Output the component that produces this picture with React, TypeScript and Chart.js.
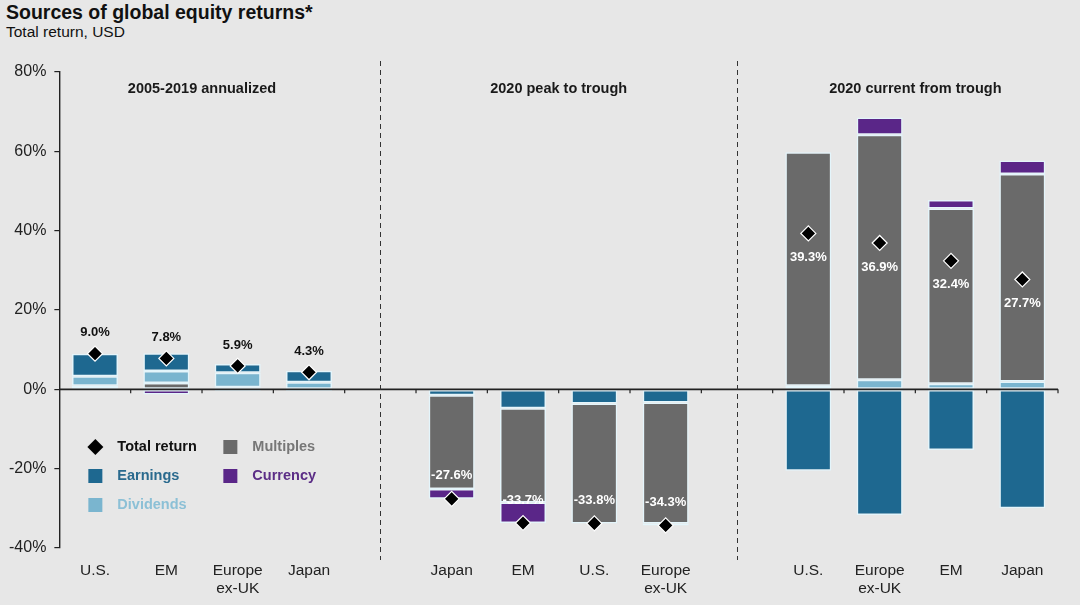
import React, { useEffect, useRef } from 'react';
import { Chart, registerables } from 'chart.js';

Chart.register(...registerables);

// ---------- data ----------
const categories: (string | string[])[] = [
  'U.S.', 'EM', ['Europe', 'ex-UK'], 'Japan', '',
  'Japan', 'EM', 'U.S.', ['Europe', 'ex-UK'], '',
  'U.S.', ['Europe', 'ex-UK'], 'EM', 'Japan',
];
const multiples = [0.9, 1.6, 0.5, -0.4, null, -23.6, -23.7, -30.2, -30.5, null, 58.9, 61.8, 44.2, 52.3];
const dividends = [2.4, 3.0, 3.7, 1.8, null, 0, 0, 0, 0, null, 0.9, 2.4, 1.4, 2.0];
const earnings = [5.7, 4.5, 2.2, 2.9, null, -1.5, -4.8, -3.6, -3.3, null, -20.5, -31.7, -15.3, -30.0];
const currency = [0, -1.3, -0.5, 0, null, -2.5, -5.2, 0, -0.5, null, 0, 4.3, 2.1, 3.4];
const totalReturn = [9.0, 7.8, 5.9, 4.3, null, -27.6, -33.7, -33.8, -34.3, null, 39.3, 36.9, 32.4, 27.7];
const yTicks = [-40, -20, 0, 20, 40, 60, 80];

const sections = [
  { title: '2005-2019 annualized', from: 0, to: 3 },
  { title: '2020 peak to trough', from: 5, to: 8 },
  { title: '2020 current from trough', from: 10, to: 13 },
];
const dividers = [4, 9];

// ---------- styles ----------
const FONT = "'Liberation Sans', Arial, sans-serif";
const BG = '#e7e7e7';
const C_EARN = '#1e6890';
const C_DIV = '#7ab5cf';
const C_MULT = '#6a6a6a';
const C_CUR = '#5a2688';
const BORDER = 'rgba(228,246,252,0.95)';

const sectionOf = (i: number) => sections.findIndex((s) => i >= s.from && i <= s.to);
const pick = (arr: (number | null)[], secs: number[]) =>
  arr.map((v, i) => (secs.includes(sectionOf(i)) && v !== 0 ? v : null));

const barDs = (label: string, data: (number | null)[], color: string) => ({
  type: 'bar' as const,
  label,
  data,
  backgroundColor: color,
  borderColor: BORDER,
  borderWidth: 1.5,
  borderSkipped: false,
  stack: 'bars',
  order: 2,
  categoryPercentage: 1,
  barPercentage: 0.645,
});

const overlayPlugin = {
  id: 'overlay',
  afterDatasetsDraw(chart: any) {
    const { ctx, chartArea, scales } = chart;
    const x = scales.x;
    const y = scales.y;
    const y0 = y.getPixelForValue(0);
    ctx.save();
    // zero line
    ctx.strokeStyle = '#222';
    ctx.lineWidth = 1.6;
    ctx.beginPath();
    ctx.moveTo(chartArea.left, y0);
    ctx.lineTo(chartArea.right, y0);
    ctx.stroke();
    // tick marks at category boundaries
    ctx.lineWidth = 1.2;
    for (let i = 1; i <= categories.length; i++) {
      const bx = i < categories.length
        ? (x.getPixelForValue(i - 1) + x.getPixelForValue(i)) / 2
        : chartArea.right;
      ctx.beginPath();
      ctx.moveTo(bx, y0);
      ctx.lineTo(bx, y0 + 4);
      ctx.stroke();
    }
    // dashed dividers
    ctx.setLineDash([5, 4]);
    ctx.lineWidth = 1;
    ctx.strokeStyle = '#333';
    dividers.forEach((d) => {
      const dx = Math.round(x.getPixelForValue(d)) + 0.5;
      ctx.beginPath();
      ctx.moveTo(dx, chartArea.top - 11);
      ctx.lineTo(dx, chartArea.bottom + 12);
      ctx.stroke();
    });
    ctx.setLineDash([]);
    // section headings
    ctx.fillStyle = '#1a1a1a';
    ctx.font = `bold 14.5px ${FONT}`;
    ctx.textAlign = 'center';
    ctx.textBaseline = 'middle';
    sections.forEach((s) => {
      const cx = (x.getPixelForValue(s.from) + x.getPixelForValue(s.to)) / 2;
      ctx.fillText(s.title, cx, chartArea.top + 17);
    });
    ctx.restore();
  },
  afterDraw(chart: any) {
    const { ctx, chartArea, scales } = chart;
    const x = scales.x;
    const y = scales.y;
    ctx.save();
    // value labels
    ctx.font = `bold 13px ${FONT}`;
    ctx.textAlign = 'center';
    ctx.textBaseline = 'middle';
    totalReturn.forEach((v, i) => {
      if (v === null) return;
      const sec = sectionOf(i);
      const px = x.getPixelForValue(i);
      const py = y.getPixelForValue(v);
      const txt = v.toFixed(1) + '%';
      if (sec === 0) {
        ctx.fillStyle = '#111';
        ctx.fillText(txt, px, py - 21);
      } else if (sec === 1) {
        ctx.fillStyle = '#fff';
        ctx.fillText(txt, px, py - 23);
      } else {
        ctx.fillStyle = '#fff';
        ctx.fillText(txt, px, py + 24);
      }
    });
    // legend
    const lx = chartArea.left + 36;
    const lx2 = chartArea.left + 171;
    const ry = [chartArea.top + 375, chartArea.top + 404, chartArea.top + 433];
    const items = [
      { kind: 'diamond', color: '#000', text: 'Total return', tc: '#111', x: lx, y: ry[0] },
      { kind: 'sq', color: C_MULT, text: 'Multiples', tc: '#777', x: lx2, y: ry[0] },
      { kind: 'sq', color: C_EARN, text: 'Earnings', tc: '#2a6a8e', x: lx, y: ry[1] },
      { kind: 'sq', color: C_CUR, text: 'Currency', tc: '#5b2d86', x: lx2, y: ry[1] },
      { kind: 'sq', color: C_DIV, text: 'Dividends', tc: '#8cc0d6', x: lx, y: ry[2] },
    ];
    ctx.font = `bold 14.5px ${FONT}`;
    ctx.textAlign = 'left';
    items.forEach((it) => {
      ctx.fillStyle = it.color;
      if (it.kind === 'diamond') {
        ctx.beginPath();
        ctx.moveTo(it.x - 8, it.y);
        ctx.lineTo(it.x, it.y - 8);
        ctx.lineTo(it.x + 8, it.y);
        ctx.lineTo(it.x, it.y + 8);
        ctx.closePath();
        ctx.fill();
      } else {
        ctx.fillRect(it.x - 7, it.y - 7, 14, 14);
      }
      ctx.fillStyle = it.tc;
      ctx.fillText(it.text, it.x + 22, it.y);
    });
    ctx.restore();
  },
};

export default function App() {
  const ref = useRef<HTMLCanvasElement | null>(null);

  useEffect(() => {
    document.body.style.margin = '0';
    const canvas = ref.current;
    if (!canvas) return;
    const chart = new Chart(canvas, {
      data: {
        labels: categories,
        datasets: [
          barDs('Earnings', pick(earnings, [1, 2]), C_EARN),
          barDs('Dividends', pick(dividends, [2]), C_DIV),
          barDs('Multiples', pick(multiples, [0, 1, 2]), C_MULT),
          barDs('Dividends', pick(dividends, [0, 1]), C_DIV),
          barDs('Earnings', pick(earnings, [0]), C_EARN),
          barDs('Currency', pick(currency, [0, 1, 2]), C_CUR),
          {
            type: 'line' as const,
            label: 'Total return',
            data: totalReturn,
            showLine: false,
            pointStyle: 'rectRot',
            pointRadius: 7.5,
            pointBackgroundColor: '#000',
            pointBorderColor: '#fff',
            pointBorderWidth: 1.2,
            stack: 'total',
            order: 1,
          },
        ],
      } as any,
      options: {
        animation: false,
        responsive: false,
        maintainAspectRatio: false,
        layout: { padding: { top: 72, left: 1, right: 22, bottom: 8 } },
        plugins: {
          legend: { display: false },
          title: { display: false },
          tooltip: { enabled: false },
        },
        scales: {
          x: {
            stacked: true,
            grid: { display: false },
            border: { display: false },
            afterFit: (scale: any) => {
              scale.height = 49;
            },
            ticks: {
              color: '#222',
              font: { family: FONT, size: 15.5 },
              padding: 5,
              maxRotation: 0,
              autoSkip: false,
            },
          },
          y: {
            stacked: true,
            min: -40,
            max: 80,
            afterBuildTicks: (axis: any) => {
              axis.ticks = yTicks.map((v) => ({ value: v }));
            },
            grid: {
              display: true,
              drawOnChartArea: false,
              drawTicks: true,
              tickLength: 5,
              color: '#222',
              lineWidth: 1.2,
            },
            border: { display: true, color: '#222', width: 1.4 },
            ticks: {
              color: '#222',
              font: { family: FONT, size: 16 },
              padding: 8,
              callback: (v: any) => `${v}%`,
            },
          },
        },
      } as any,
      plugins: [overlayPlugin],
    });
    return () => chart.destroy();
  }, []);

  return (
    <div style={{ position: 'fixed', left: 0, top: 0, width: 1080, height: 605, background: BG, overflow: 'hidden' }}>
      <div style={{ position: 'absolute', left: 6, top: 1, fontFamily: FONT, fontWeight: 'bold', fontSize: 19.5, color: '#111', whiteSpace: 'nowrap' }}>
        Sources of global equity returns*
      </div>
      <div style={{ position: 'absolute', left: 6, top: 23, fontFamily: FONT, fontSize: 15.5, color: '#111', whiteSpace: 'nowrap' }}>
        Total return, USD
      </div>
      <canvas ref={ref} width={1080} height={605} style={{ position: 'absolute', left: 0, top: 0 }} />
    </div>
  );
}
